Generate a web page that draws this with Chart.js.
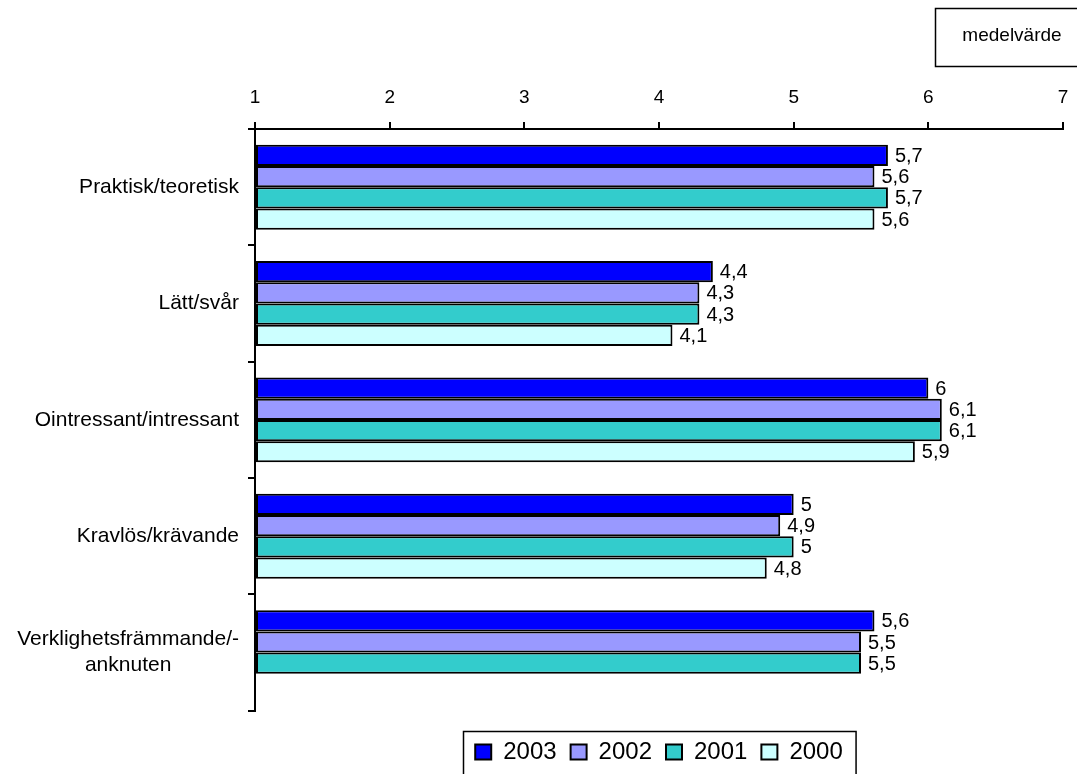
<!DOCTYPE html>
<html><head><meta charset="utf-8">
<script src="https://cdn.jsdelivr.net/npm/chart.js@4"></script>
<style>html,body{margin:0;padding:0;background:#fff}#wrap{width:1077px;height:774px;position:relative}</style>
</head><body><div id="wrap"><canvas id="c" width="1077" height="774"></canvas></div>
<script>
const categories = [["Praktisk/teoretisk"],["Lätt/svår"],["Ointressant/intressant"],["Kravlös/krävande"],["Verklighetsfrämmande/-","anknuten"]];
const seriesNames = ["2003","2002","2001","2000"];
const values2003 = [5.7,4.4,6.0,5.0,5.6];
const values2002 = [5.6,4.3,6.1,4.9,5.5];
const values2001 = [5.7,4.3,6.1,5.0,5.5];
const values2000 = [5.6,4.1,5.9,4.8,null];
const xTicks = [1,2,3,4,5,6,7];
const seriesColors = ['#0000FF','#9999FF','#33CCCC','#CCFFFF'];
const unitLabel = 'medelvärde';

const FONT = "'Liberation Sans', Arial, sans-serif";
const allValues = [values2003, values2002, values2001, values2000];

const datasets = seriesNames.map((name, i) => ({
  label: name,
  data: allValues[i],
  backgroundColor: seriesColors[i],
  borderColor: '#000',
  borderWidth: 2,
  borderSkipped: false,
  base: 1,
  barPercentage: 1,
  categoryPercentage: 0.73
}));

const extras = {
  id: 'extras',
  afterDatasetsDraw(chart) {
    const ctx = chart.ctx;
    ctx.save();
    ctx.fillStyle = '#000';
    ctx.font = '20px ' + FONT;
    ctx.textAlign = 'left';
    ctx.textBaseline = 'middle';
    chart.data.datasets.forEach((ds, di) => {
      const meta = chart.getDatasetMeta(di);
      meta.data.forEach((el, j) => {
        const v = ds.data[j];
        if (v === null || v === undefined) return;
        ctx.fillText(String(v).replace('.', ','), el.x + 7, el.y + 1);
      });
    });
    ctx.restore();
  },
  afterDraw(chart) {
    const ctx = chart.ctx;
    const ys = chart.scales.y;
    ctx.save();
    ctx.fillStyle = '#000';
    ctx.font = '21px ' + FONT;
    ctx.textAlign = 'center';
    ctx.textBaseline = 'middle';
    const rightEdge = chart.chartArea.left - 16;
    chart.data.labels.forEach((lab, i) => {
      const lines = Array.isArray(lab) ? lab : [lab];
      const y0 = ys.getPixelForTick(i);
      const maxW = Math.max(...lines.map(l => ctx.measureText(l).width));
      const cx = rightEdge - maxW / 2;
      lines.forEach((l, j) => {
        ctx.fillText(l, cx, y0 + (j - (lines.length - 1) / 2) * 26);
      });
    });
    // unit box
    ctx.strokeStyle = '#000';
    ctx.lineWidth = 1.5;
    ctx.strokeRect(935.5, 8.5, 160, 58);
    ctx.font = '19px ' + FONT;
    ctx.fillText(unitLabel, 1012, 36);
    // legend frame
    const lg = chart.legend;
    if (lg && lg.legendHitBoxes && lg.legendHitBoxes.length) {
      const hb = lg.legendHitBoxes;
      const left = Math.min(...hb.map(h => h.left)) - 12;
      const right = Math.max(...hb.map(h => h.left + h.width)) + 13;
      const cy = hb[0].top + hb[0].height / 2;
      ctx.strokeRect(Math.round(left) + 0.5, Math.round(cy - 21) + 0.5, right - left, 80);
    }
    ctx.restore();
  }
};

new Chart(document.getElementById('c'), {
  type: 'bar',
  data: { labels: categories, datasets },
  options: {
    indexAxis: 'y',
    responsive: false,
    animation: false,
    devicePixelRatio: 1,
    layout: { padding: 0 },
    scales: {
      x: {
        position: 'top',
        min: 1, max: 7,
        afterFit(s) { s.height = 129; s.paddingRight = 14; s.paddingLeft = 0; },
        afterBuildTicks(s) { s.ticks = xTicks.map(v => ({ value: v })); },
        grid: { drawOnChartArea: false, drawTicks: true, tickLength: 7, color: '#000', lineWidth: 2 },
        border: { display: true, color: '#000', width: 2 },
        ticks: { color: '#000', font: { family: FONT, size: 19 }, padding: 13, autoSkip: false, maxRotation: 0 }
      },
      y: {
        afterFit(s) { s.width = 255; },
        grid: { drawOnChartArea: false, drawTicks: true, tickLength: 7, color: '#000', lineWidth: 2, offset: true },
        border: { display: true, color: '#000', width: 2 },
        ticks: { display: false }
      }
    },
    plugins: {
      tooltip: { enabled: false },
      legend: {
        position: 'bottom',
        fullSize: false,
        title: { display: true, text: '', font: { size: 1 }, padding: { top: 14, bottom: 0 } },
        labels: {
          color: '#000',
          font: { family: FONT, size: 24 },
          boxWidth: 16, boxHeight: 15, padding: 14
        }
      }
    }
  },
  plugins: [extras]
});
</script></body></html>
